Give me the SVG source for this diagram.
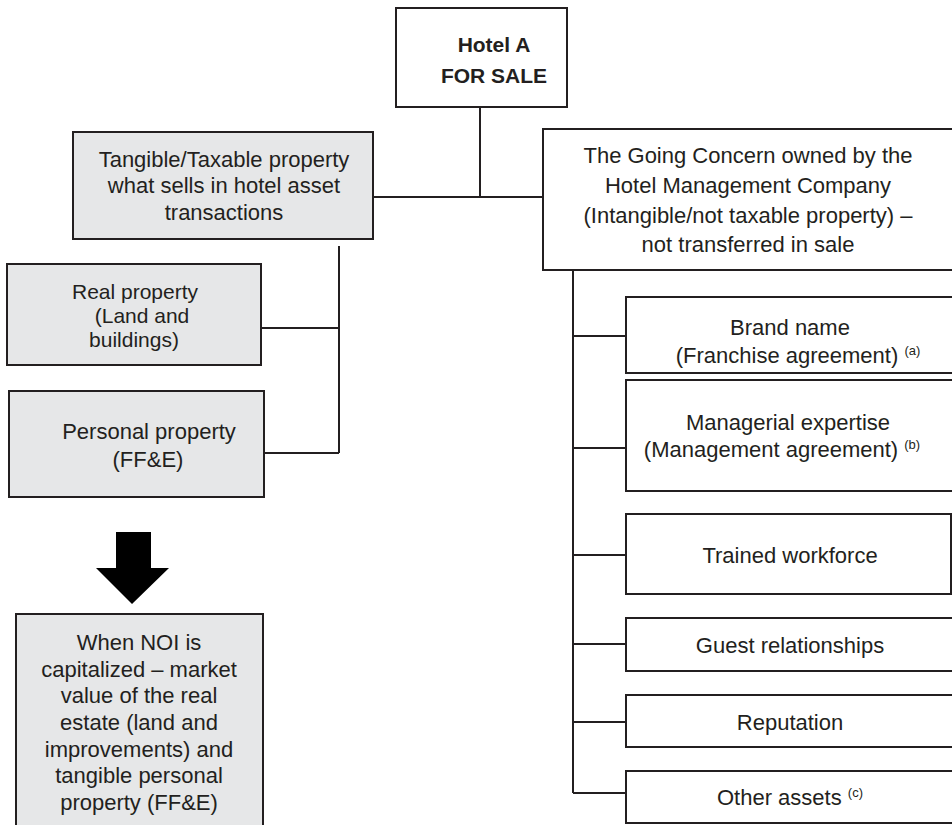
<svg xmlns="http://www.w3.org/2000/svg" width="952" height="825" viewBox="0 0 952 825">
<style>
.box{fill:#ffffff;stroke:#231f20;stroke-width:2}
.gbox{fill:#e6e7e8;stroke:#231f20;stroke-width:2}
.ln{fill:none;stroke:#231f20;stroke-width:2}
text{font-family:"Liberation Sans",Arial,sans-serif;fill:#231f20;font-size:22px;text-anchor:middle}
.sm{font-size:21px}
.b{font-weight:bold;font-size:21px}
.sup{font-size:13px}
</style>
<rect width="952" height="825" fill="#ffffff"/>
<g id="connectors">
<path class="ln" d="M480 107 V197 M373 197 H543"/>
<path class="ln" d="M339 246 V453 M262 328 H339 M264 453 H339"/>
<path class="ln" d="M573 270 V793 M573 336 H626 M573 448 H626 M573 555 H626 M573 644 H626 M573 722 H626 M573 793 H626"/>
<polygon points="116,532 151,532 151,568 169,568 132,604 96,568 116,568" fill="#000000"/>
</g>
<g id="hotel">
<rect class="box" x="396" y="8" width="171" height="99"/>
<text class="b"><tspan x="494" y="52">Hotel A</tspan><tspan x="494" y="83">FOR SALE</tspan></text>
</g>
<g id="tangible">
<rect class="gbox" x="73" y="132" width="300" height="107"/>
<text><tspan x="224" y="167">Tangible/Taxable property</tspan><tspan x="224" y="193">what sells in hotel asset</tspan><tspan x="224" y="220">transactions</tspan></text>
</g>
<g id="real">
<rect class="gbox" x="7" y="264" width="254" height="101"/>
<text class="sm"><tspan x="135" y="299">Real property</tspan><tspan x="142" y="323">(Land and</tspan><tspan x="134" y="347">buildings)</tspan></text>
</g>
<g id="personal">
<rect class="gbox" x="9" y="391" width="255" height="106"/>
<text><tspan x="149" y="439">Personal property</tspan><tspan x="148" y="467">(FF&amp;E)</tspan></text>
</g>
<g id="noi">
<rect class="gbox" x="16" y="614" width="247" height="220"/>
<text><tspan x="139" y="650">When NOI is</tspan><tspan x="139" y="677">capitalized – market</tspan><tspan x="139" y="703">value of the real</tspan><tspan x="139" y="730">estate (land and</tspan><tspan x="139" y="757">improvements) and</tspan><tspan x="139" y="783">tangible personal</tspan><tspan x="139" y="810">property (FF&amp;E)</tspan></text>
</g>
<g id="going">
<rect class="box" x="543" y="129" width="420" height="141"/>
<text><tspan x="748" y="163">The Going Concern owned by the</tspan><tspan x="748" y="193">Hotel Management Company</tspan><tspan x="748" y="223">(Intangible/not taxable property) –</tspan><tspan x="748" y="252">not transferred in sale</tspan></text>
</g>
<g id="brand">
<rect class="box" x="626" y="297" width="337" height="76"/>
<text><tspan x="790" y="335">Brand name</tspan><tspan x="798" y="363">(Franchise agreement) <tspan class="sup" dy="-8">(a)</tspan></tspan></text>
</g>
<g id="managerial">
<rect class="box" x="626" y="380" width="337" height="111"/>
<text><tspan x="788" y="430">Managerial expertise</tspan><tspan x="782" y="457">(Management agreement) <tspan class="sup" dy="-8">(b)</tspan></tspan></text>
</g>
<g id="trained">
<rect class="box" x="626" y="514" width="325" height="80"/>
<text x="790" y="563">Trained workforce</text>
</g>
<g id="guest">
<rect class="box" x="626" y="618" width="337" height="53"/>
<text x="790" y="653">Guest relationships</text>
</g>
<g id="reputation">
<rect class="box" x="626" y="695" width="337" height="52"/>
<text x="790" y="730">Reputation</text>
</g>
<g id="other">
<rect class="box" x="626" y="771" width="337" height="52"/>
<text x="790" y="805">Other assets <tspan class="sup" dy="-8">(c)</tspan></text>
</g>
</svg>
